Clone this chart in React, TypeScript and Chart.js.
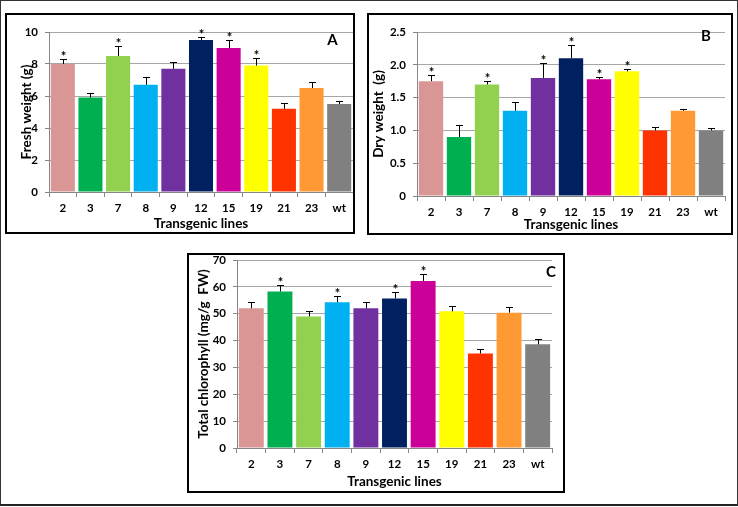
import React, { useEffect, useRef } from "react";
import { Chart, registerables } from "chart.js";

Chart.register(...registerables);

// ---------- data ----------
const lines = ["2", "3", "7", "8", "9", "12", "15", "19", "21", "23", "wt"];
const barColors = [
  "#D99694", "#00B050", "#92D050", "#00B0F0", "#7030A0", "#002060",
  "#CC0099", "#FFFF00", "#FF3300", "#FF9933", "#808080",
];

const freshWeight = [8.0, 5.9, 8.5, 6.7, 7.7, 9.5, 9.0, 7.9, 5.2, 6.5, 5.5];
const freshWeightErr = [0.3, 0.3, 0.6, 0.5, 0.4, 0.2, 0.5, 0.5, 0.35, 0.4, 0.2];
const freshWeightSig = [true, false, true, false, false, true, true, true, false, false, false];

const dryWeight = [1.75, 0.9, 1.7, 1.3, 1.8, 2.1, 1.78, 1.9, 1.0, 1.3, 1.0];
const dryWeightErr = [0.1, 0.18, 0.05, 0.14, 0.22, 0.2, 0.04, 0.04, 0.05, 0.02, 0.03];
const dryWeightSig = [true, false, true, false, true, true, true, true, false, false, false];

const chlorophyll = [52, 58.3, 49, 54.3, 52, 55.7, 62.2, 50.9, 35.2, 50.4, 38.6];
const chlorophyllErr = [2.2, 2.4, 2.0, 2.2, 2.2, 2.3, 2.5, 2.0, 1.6, 2.0, 1.8];
const chlorophyllSig = [false, true, false, true, false, true, true, false, false, false, false];

const xTitle = "Transgenic lines";

const FONT = "Lato, 'Open Sans', sans-serif";
const GRID = "#A6A6A6";
const AXIS = "#868686";

type PanelProps = {
  box: { L: number; T: number; W: number; H: number };
  values: number[];
  errors: number[];
  sig: boolean[];
  yMax: number;
  yStep: number;
  yTitle: string;
  letter: string;
  letterPos: [number, number];
  yW: number;
  xH: number;
  pad: { top: number; right: number; bottom: number; left: number };
  yTitlePad: number;
  xTitlePad: number;
};

function makeAnnotPlugin(errors: number[], sig: boolean[], letter: string, letterPos: [number, number]) {
  return {
    id: "annot",
    afterDatasetsDraw(chart: any) {
      const ctx = chart.ctx as CanvasRenderingContext2D;
      const meta = chart.getDatasetMeta(0);
      const yScale = chart.scales.y;
      const data = chart.data.datasets[0].data as number[];
      ctx.save();
      ctx.strokeStyle = "#000";
      ctx.lineWidth = 1;
      ctx.fillStyle = "#000";
      ctx.font = `bold 13px ${FONT}`;
      ctx.textAlign = "center";
      ctx.textBaseline = "alphabetic";
      meta.data.forEach((bar: any, i: number) => {
        const x = Math.round(bar.x) + 0.5;
        const yTop = Math.round(yScale.getPixelForValue(data[i] + errors[i])) + 0.5;
        ctx.beginPath();
        ctx.moveTo(x, bar.y);
        ctx.lineTo(x, yTop);
        ctx.moveTo(x - 3.5, yTop);
        ctx.lineTo(x + 3.5, yTop);
        ctx.stroke();
        if (sig[i]) {
          ctx.fillText("*", x, yTop + 1);
        }
      });
      ctx.font = `bold 15px ${FONT}`;
      ctx.textBaseline = "middle";
      ctx.fillText(letter, letterPos[0], letterPos[1]);
      ctx.restore();
    },
  };
}

function Panel(p: PanelProps) {
  const ref = useRef<HTMLCanvasElement>(null);
  useEffect(() => {
    const chart = new Chart(ref.current!, {
      type: "bar",
      data: {
        labels: lines,
        datasets: [
          {
            data: p.values,
            backgroundColor: barColors,
            borderWidth: 0,
            categoryPercentage: 1,
            barPercentage: 0.87,
          },
        ],
      },
      options: {
        responsive: false,
        animation: false,
        devicePixelRatio: 1,
        layout: { padding: p.pad },
        plugins: { legend: { display: false }, tooltip: { enabled: false } },
        scales: {
          x: {
            grid: {
              display: true,
              drawOnChartArea: false,
              drawTicks: true,
              tickLength: 5,
              color: AXIS,
              offset: true,
            },
            border: { display: true, color: AXIS, width: 1 },
            ticks: {
              font: { family: FONT, size: 11.5, weight: "bold" },
              color: "#000",
              padding: 4,
              maxRotation: 0,
              autoSkip: false,
            },
            title: {
              display: true,
              text: xTitle,
              font: { family: FONT, size: 13.5, weight: "bold" },
              color: "#000",
              padding: { top: 0, bottom: p.xTitlePad },
            },
            afterFit: (s: any) => {
              s.height = p.xH;
              s.paddingLeft = 0;
              s.paddingRight = 0;
            },
          },
          y: {
            min: 0,
            max: p.yMax,
            ticks: {
              stepSize: p.yStep,
              font: { family: FONT, size: 11.5, weight: "bold" },
              color: "#000",
              padding: 7,
            },
            grid: { color: GRID, tickLength: 4, drawTicks: true, tickColor: AXIS },
            border: { display: true, color: AXIS, width: 1 },
            title: {
              display: true,
              text: p.yTitle,
              font: { family: FONT, size: 13.5, weight: "bold" },
              color: "#000",
              padding: { top: p.yTitlePad, bottom: 0 },
            },
            afterFit: (s: any) => {
              s.width = p.yW;
              s.paddingTop = 0;
              s.paddingBottom = 0;
            },
          },
        },
      } as any,
      plugins: [makeAnnotPlugin(p.errors, p.sig, p.letter, p.letterPos)],
    });
    return () => chart.destroy();
  }, []);
  const { L, T, W, H } = p.box;
  return (
    <div style={{ position: "absolute", left: L, top: T, width: W, height: H }}>
      <canvas
        ref={ref}
        width={W}
        height={H}
        style={{ position: "absolute", left: 0, top: 0, width: W, height: H }}
      />
      <div
        style={{
          position: "absolute",
          left: 0,
          top: 0,
          width: W,
          height: H,
          border: "2px solid #000",
          boxSizing: "border-box",
          pointerEvents: "none",
        }}
      />
    </div>
  );
}

export default function App() {
  return (
    <div
      style={{
        position: "absolute",
        left: 0,
        top: 0,
        width: 738,
        height: 506,
        boxSizing: "border-box",
        borderTop: "1px solid #333",
        borderLeft: "1px solid #333",
        borderRight: "1px solid #333",
        borderBottom: "2px solid #222",
        background: "#fff",
      }}
    >
      <div style={{ position: "absolute", left: -1, top: -1 }}>
        <Panel
          box={{ L: 5, T: 13, W: 350, H: 221 }}
          values={freshWeight}
          errors={freshWeightErr}
          sig={freshWeightSig}
          yMax={10}
          yStep={2}
          yTitle="Fresh weight (g)"
          letter="A"
          letterPos={[327.5, 27]}
          yW={44}
          xH={40}
          pad={{ top: 19, right: 2, bottom: 2, left: 0 }}
          yTitlePad={14}
          xTitlePad={0}
        />
        <Panel
          box={{ L: 367, T: 13, W: 366, H: 222 }}
          values={dryWeight}
          errors={dryWeightErr}
          sig={dryWeightSig}
          yMax={2.5}
          yStep={0.5}
          yTitle="Dry weight  (g)"
          letter="B"
          letterPos={[339, 23]}
          yW={50}
          xH={37}
          pad={{ top: 19, right: 8, bottom: 2, left: 0 }}
          yTitlePad={4}
          xTitlePad={0}
        />
        <Panel
          box={{ L: 187, T: 253, W: 378, H: 240 }}
          values={chlorophyll}
          errors={chlorophyllErr}
          sig={chlorophyllSig}
          yMax={70}
          yStep={10}
          yTitle="Total chlorophyll (mg/g  FW)"
          letter="C"
          letterPos={[364, 19]}
          yW={50}
          xH={43}
          pad={{ top: 7, right: 13, bottom: 2, left: 0 }}
          yTitlePad={9}
          xTitlePad={1}
        />
      </div>
    </div>
  );
}
